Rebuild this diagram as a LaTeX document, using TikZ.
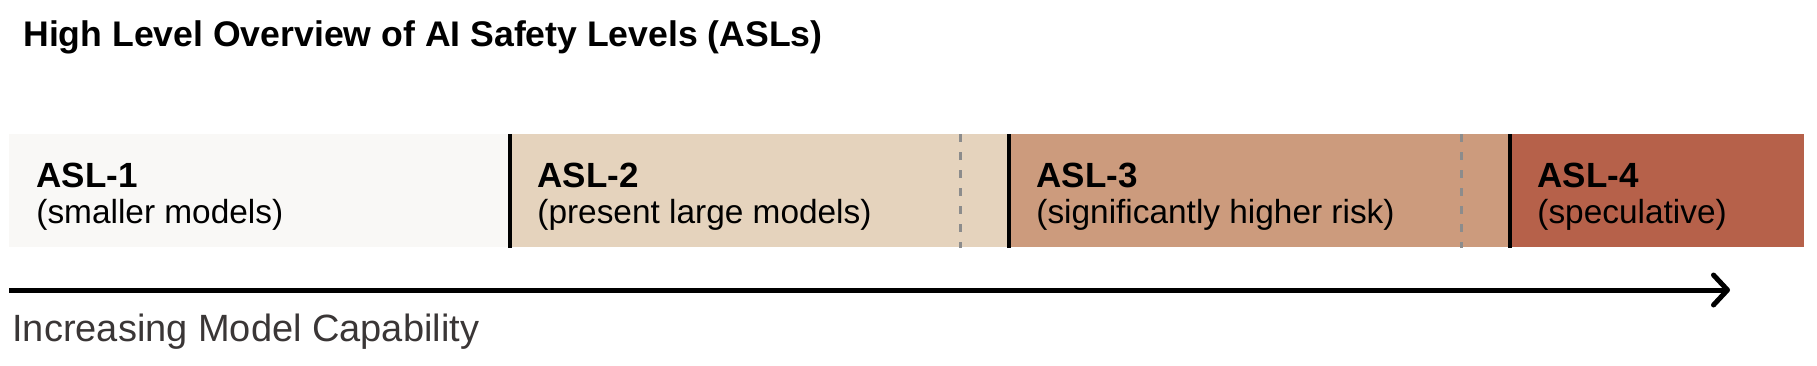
\documentclass[tikz,border=0pt]{standalone}
\usepackage{fontspec}
\setmainfont{Liberation Sans}
\usepackage{xcolor}
\usetikzlibrary{positioning,arrows.meta}
\definecolor{aslone}{HTML}{F9F8F6}
\definecolor{asltwo}{HTML}{E5D3BD}
\definecolor{aslthree}{HTML}{CC9B7D}
\definecolor{aslfour}{HTML}{B6614A}
\definecolor{axisgray}{HTML}{3A3636}
\definecolor{dashgray}{HTML}{8C8C8C}

\begin{document}
\begin{tikzpicture}[x=0.5pt, y=0.5pt, >=Stealth,
  lvlname/.style={anchor=base west, inner sep=0, font=\fontsize{17.5}{20}\selectfont\bfseries},
  lvldesc/.style={anchor=base west, inner sep=0, font=\fontsize{16.7}{19}\selectfont},
  divider/.style={line width=2.3pt},
  softdiv/.style={line width=1.5pt, dashgray, dash pattern=on 4pt off 5pt}]
\useasboundingbox (0,0) rectangle (1817,-365);
\node[anchor=base west, inner sep=0, font=\fontsize{17.8}{20}\selectfont\bfseries] (title) at (23,-46) {High Level Overview of AI Safety Levels (ASLs)};
% the four levels
\foreach \i/\xa/\xb/\c/\n/\d in {1/9/510/aslone/ASL-1/(smaller models), 2/510/1009/asltwo/ASL-2/(present large models), 3/1009/1510/aslthree/ASL-3/(significantly higher risk), 4/1510/1804/aslfour/ASL-4/(speculative)}{
  \node[fill=\c, anchor=north west, inner sep=0, minimum width={(\xb-\xa)*0.5pt}, minimum height=56.5pt] (seg\i) at (\xa,-134) {};
  \node[lvlname] (lvl\i) at (\xa+27,-187) {\n};
  \node[lvldesc] (desc\i) at (\xa+27,-223) {\d};
}
\foreach \i in {2,3,4}{
  \draw[divider] (seg\i.north west) -- (seg\i.south west);
}
\foreach \i in {2,3}{
  \draw[softdiv] ([xshift=-24.5pt]seg\i.north east) -- ([xshift=-24.5pt]seg\i.south east);
}
% capability axis
\coordinate (axstart) at (9,-290);
\coordinate (axend) at (1730,-290);
\draw[line width=2.5pt, -{Straight Barb[length=7pt, width=15pt, round]}] (axstart) -- (axend);
\node[anchor=base west, inner sep=0, text=axisgray, font=\fontsize{19}{22}\selectfont] (axis) at (12,-341) {Increasing Model Capability};
\end{tikzpicture}
\end{document}
